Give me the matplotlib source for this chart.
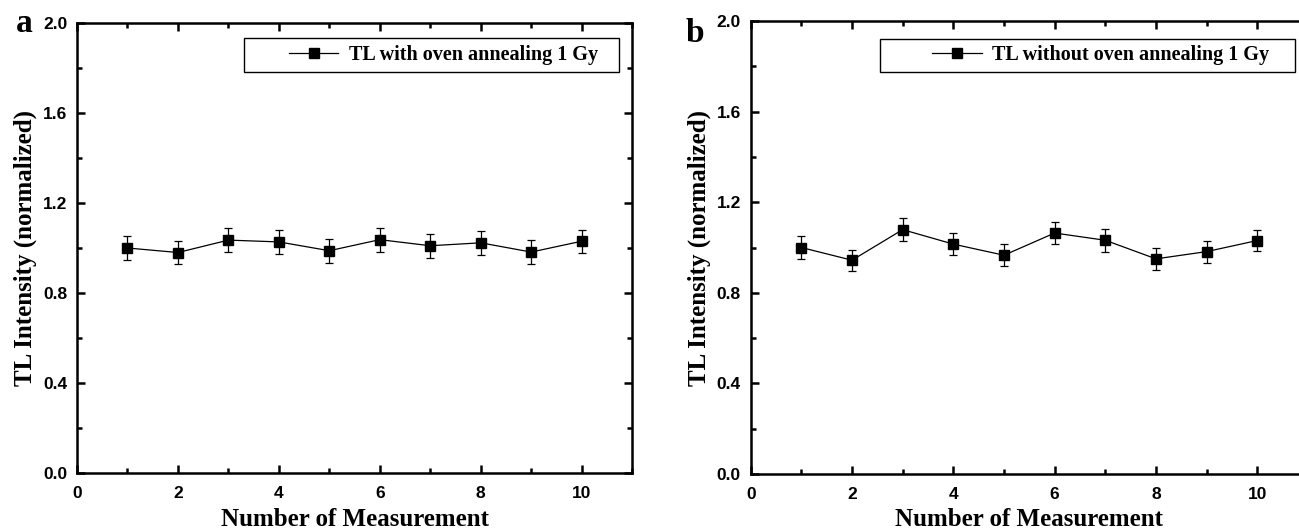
import matplotlib
matplotlib.use("Agg")
import matplotlib.pyplot as plt
from matplotlib.patches import Rectangle
from matplotlib.lines import Line2D
from matplotlib.ticker import MultipleLocator

# Repeated TL readouts, normalized to the first measurement
measurement = [1, 2, 3, 4, 5, 6, 7, 8, 9, 10]
tl_with_oven = [1.000, 0.980, 1.035, 1.027, 0.988, 1.037, 1.010, 1.023, 0.982, 1.030]
err_with_oven = [0.053, 0.053, 0.052, 0.053, 0.054, 0.053, 0.053, 0.052, 0.053, 0.052]
tl_without_oven = [1.000, 0.944, 1.079, 1.015, 0.966, 1.064, 1.032, 0.950, 0.982, 1.031]
err_without_oven = [0.051, 0.047, 0.051, 0.048, 0.049, 0.050, 0.051, 0.050, 0.049, 0.048]

panel_letters = ["a", "b"]
legend_labels = ["TL with oven annealing 1 Gy", "TL without oven annealing 1 Gy"]
x_label = "Number of Measurement"
y_label = "TL Intensity (normalized)"

SERIF = ["Liberation Serif", "DejaVu Serif"]
NARROW = ["Liberation Sans Narrow", "Liberation Sans", "DejaVu Sans"]

fig = plt.figure(figsize=(12.99, 5.31), dpi=100)

axes_boxes = [
    [0.0593, 0.1083, 0.4273, 0.8493],
    [0.5779, 0.1073, 0.4290, 0.8531],
]
legend_boxes = [  # (x0, y0, x1, y1) in axes fraction
    (0.300, 0.890, 0.976, 0.966),
    (0.232, 0.888, 0.977, 0.960),
]
legend_text_gap = [0.038, 0.047]
letter_pos = [(0.0189, 0.940), (0.5346, 0.921)]

series = [(tl_with_oven, err_with_oven), (tl_without_oven, err_without_oven)]

for i, (vals, errs) in enumerate(series):
    ax = fig.add_axes(axes_boxes[i])
    ax.errorbar(measurement, vals, yerr=errs, color="black", marker="s",
                markersize=6.5, linewidth=0.9, elinewidth=0.9, capsize=2.8,
                capthick=0.9, zorder=3)

    ax.set_xlim(0, 11)
    ax.set_ylim(0, 2.0)
    ax.xaxis.set_minor_locator(MultipleLocator(1))
    ax.yaxis.set_minor_locator(MultipleLocator(0.2))
    ax.set_xticks([0, 2, 4, 6, 8, 10])
    ax.set_yticks([0.0, 0.4, 0.8, 1.2, 1.6, 2.0])
    ax.set_yticklabels(["0.0", "0.4", "0.8", "1.2", "1.6", "2.0"])

    for s in ax.spines.values():
        s.set_linewidth(1.8)
    ax.tick_params(which="both", direction="in", top=True, right=True,
                   width=1.8, labelsize=12.5)
    ax.tick_params(axis="y", pad=7)
    ax.tick_params(axis="x", pad=9)
    ax.tick_params(which="major", length=6)
    ax.tick_params(which="minor", length=3.5)
    for lab in ax.get_xticklabels() + ax.get_yticklabels():
        lab.set_family(NARROW)
        lab.set_fontweight("bold")

    ax.set_xlabel(x_label, family=SERIF, fontweight="bold", fontsize=18,
                  labelpad=5)
    ax.set_ylabel(y_label, family=SERIF, fontweight="bold", fontsize=18,
                  labelpad=4)

    # Outlined legend box with the line-and-square key inside
    x0, y0, x1, y1 = legend_boxes[i]
    ax.add_patch(Rectangle((x0, y0), x1 - x0, y1 - y0, transform=ax.transAxes,
                           fill=False, edgecolor="black", linewidth=1.0,
                           zorder=4, clip_on=False))
    key = Line2D([], [], color="black", marker="s", markersize=6.5,
                 linewidth=0.9)
    ax.legend([key], [legend_labels[i]], loc="center right",
              bbox_to_anchor=(x1 - legend_text_gap[i], (y0 + y1) / 2),
              frameon=False, handlelength=2.45, handletextpad=0.5,
              borderpad=0.0, borderaxespad=0.0,
              prop={"family": SERIF, "weight": "bold", "size": 14.5})

    fig.text(letter_pos[i][0], letter_pos[i][1], panel_letters[i],
             family=SERIF, fontweight="bold", fontsize=24,
             ha="center", va="baseline")

fig.savefig("out.png", dpi=100)
